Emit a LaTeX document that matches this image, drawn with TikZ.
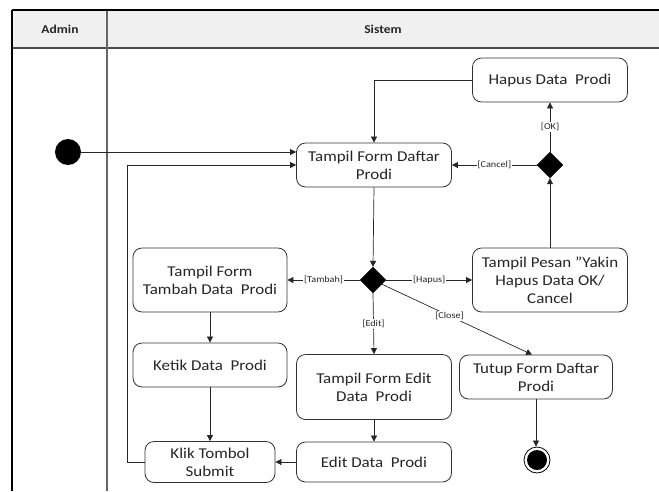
\documentclass[tikz,border=0pt]{standalone}
\usepackage{fontspec}
\setmainfont[FakeStretch=1.13]{Carlito}
\usetikzlibrary{shapes.geometric,arrows.meta}
\tikzset{
  act/.style={draw=black!80, line width=0.8pt, rounded corners=9pt, fill=white,
    align=center, font=\fontsize{15}{18}\selectfont, inner sep=0pt, text=black!85},
  dec/.style={diamond, fill=black, draw=black, minimum width=26pt, minimum height=26pt, inner sep=0pt},
  flow/.style={draw=black!85, line width=0.7pt, -{Triangle[length=6pt,width=6pt]}},
  guard/.style={font=\fontsize{9}{10}\selectfont, fill=white, inner sep=1pt, text=black!85},
  lanetitle/.style={font=\bfseries\fontsize{12}{14}\selectfont, text=black!85}
}
\begin{document}
\begin{tikzpicture}[x=1pt,y=-1pt]
\useasboundingbox (0,0) rectangle (659,491);
% swimlanes
\fill[black!6] (12,10) rectangle (659,48);
\draw[black!70, line width=1.5pt] (12,48) -- (659,48);
\draw[black!60, line width=1.5pt] (107,10) -- (107,491);
\draw[black, line width=2pt] (12,10) -- (659,10);
\draw[black, line width=2pt] (12,10) -- (12,491);
\node[lanetitle] (adm) at (60,29) {Admin};
\node[lanetitle] (sis) at (383,29) {Sistem};
% nodes
\node[circle, fill=black, minimum size=26pt, inner sep=0pt] (start) at (68,152) {};
\node[act, minimum width=155pt, minimum height=44pt] (hapus) at (550,80) {Hapus Data\ \ Prodi};
\node[act, minimum width=155pt, minimum height=44pt] (daftar) at (374,165) {Tampil Form Daftar\\Prodi};
\node[dec] (d1) at (550,165) {};
\node[dec] (d2) at (373,280) {};
\node[act, minimum width=154pt, minimum height=64pt] (tambah) at (210,280) {Tampil Form\\Tambah Data\ \ Prodi};
\node[act, minimum width=155pt, minimum height=64pt] (pesan) at (550,280) {Tampil Pesan "Yakin\\Hapus Data OK/\\Cancel};
\node[act, minimum width=154pt, minimum height=44pt] (ketik) at (210,365) {Ketik Data\ \ Prodi};
\node[act, minimum width=155pt, minimum height=65pt] (editform) at (374,387) {Tampil Form Edit\\Data\ \ Prodi};
\node[act, minimum width=153pt, minimum height=44pt] (tutup) at (536,377) {Tutup Form Daftar\\Prodi};
\node[act, minimum width=155pt, minimum height=40pt] (editdata) at (374,462) {Edit Data\ \ Prodi};
\node[act, minimum width=130pt, minimum height=41pt] (klik) at (210,462) {Klik Tombol\\Submit};
\node[circle, draw=black, line width=0.8pt, minimum size=26pt, inner sep=0pt] (end) at (537,460) {};
\node[circle, fill=black, minimum size=20pt, inner sep=0pt] (endin) at (537,460) {};
\coordinate (loop) at (127,462);
% connectors
\draw[flow] (start) -- (start -| daftar.west);
\draw[flow] (klik.west) -- (loop) |- (daftar.west);
\draw[flow] (hapus.west) -| (daftar.north);
\draw[flow] (daftar.south) -- (d2.north);
\draw[flow] (d2.west) -- node[guard]{[Tambah]} (tambah.east);
\draw[flow] (d2.east) -- node[guard]{[Hapus]} (pesan.west);
\draw[flow] (d2.south) -- node[guard]{[Edit]} (editform.north);
\draw[flow] (d2) -- node[guard, pos=0.45]{[Close]} ([xshift=-4pt]tutup.north);
\draw[flow] (pesan.north) -- (d1.south);
\draw[flow] (d1.north) -- node[guard]{[OK]} (hapus.south);
\draw[flow] (d1.west) -- node[guard]{[Cancel]} (daftar.east);
\draw[flow] (tambah.south) -- (ketik.north);
\draw[flow] (ketik.south) -- (klik.north);
\draw[flow] (editform.south) -- (editdata.north);
\draw[flow] (editdata.west) -- (klik.east);
\draw[flow] (tutup.south |- tutup.south) -- (end.north -| tutup.south);
\end{tikzpicture}
\end{document}
